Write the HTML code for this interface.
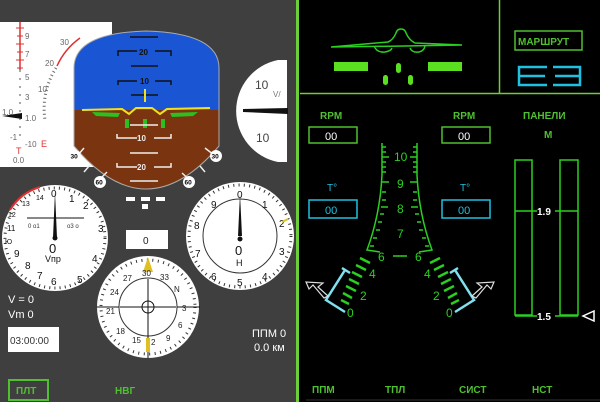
<!DOCTYPE html>
<html><head><meta charset="utf-8"><style>
html,body{margin:0;padding:0;width:600px;height:402px;overflow:hidden;background:#000}
svg{display:block;font-family:"Liberation Sans",sans-serif}
</style></head><body>
<svg width="600" height="402" viewBox="0 0 600 402" xmlns="http://www.w3.org/2000/svg">
<rect x="0" y="0" width="298" height="402" fill="#3f3f3f"/>
<rect x="296" y="0" width="3" height="402" fill="#6ccf3a"/>
<rect x="0" y="22" width="112" height="145" fill="#fff"/>
<line x1="20" y1="22" x2="20" y2="70" stroke="#e03030" stroke-width="1.5"/>
<line x1="20" y1="70" x2="20" y2="140" stroke="#555" stroke-width="1" stroke-dasharray="2,6"/>
<g stroke="#e03030" stroke-width="1"><line x1="16" y1="28" x2="24" y2="28"/><line x1="17" y1="36" x2="23" y2="36"/><line x1="16" y1="44" x2="24" y2="44"/><line x1="17" y1="52" x2="23" y2="52"/><line x1="16" y1="60" x2="24" y2="60"/><line x1="17" y1="68" x2="23" y2="68"/></g>
<g font-size="8" fill="#666"><text x="25" y="39">9</text><text x="25" y="57">7</text><text x="25" y="80">5</text><text x="25" y="100">3</text><text x="25" y="121">1.0</text><text x="2" y="115">1.0</text><text x="10" y="140">-1</text><text x="25" y="147">-10</text><text x="13" y="163">0.0</text><text x="60" y="45">30</text><text x="45" y="66">20</text><text x="38" y="92">10</text></g>
<text x="16" y="154" font-size="9" fill="#e03030">T</text><text x="41" y="147" font-size="9" fill="#e03030">E</text>
<path d="M2 116 L22 113 L22 119 Z" fill="#111"/>
<path d="M57 66 A70 70 0 0 1 80 38" stroke="#e03030" stroke-width="1.5" fill="none"/>
<path d="M56 68 A75 75 0 0 0 45 120" stroke="#666" stroke-width="3" stroke-dasharray="1,3" fill="none"/>
<defs><clipPath id="adi"><path d="M74 68 Q74 33 146 31 Q219 33 219 68 L219 146 Q146 232 74 146 Z"/></clipPath></defs>
<g clip-path="url(#adi)">
<rect x="70" y="20" width="155" height="90" fill="#1a56d4"/>
<rect x="70" y="110" width="155" height="90" fill="#7a3510"/>
</g>
<path d="M74 68 Q74 33 146 31 Q219 33 219 68 L219 146 Q146 232 74 146 Z" fill="none" stroke="#aaa" stroke-width="1"/>
<g stroke="#111" stroke-width="1.5" fill="none"><line x1="130" y1="37" x2="158" y2="37"/><path d="M118 56 V51 H137 M155 51 H171 V56"/><line x1="131" y1="66" x2="158" y2="66"/><path d="M118 85 V81 H137 M155 81 H171 V85"/><line x1="131" y1="95" x2="158" y2="95"/></g>
<g font-size="8" font-weight="bold" fill="#111"><text x="139" y="55">20</text><text x="140" y="84">10</text></g>
<line x1="145" y1="89" x2="145" y2="102" stroke="#f0e020" stroke-width="2"/>
<path d="M82 110 L122 109 L129 114 L136 108 L152 108 L160 114 L167 109 L210 108" stroke="#f0e020" stroke-width="2" fill="none"/>
<path d="M92 112 L120 113 L118 117 L96 116Z M170 113 L198 112 L193 116 L172 117Z" fill="#2ac020"/>
<g fill="#2ac020"><rect x="125" y="119" width="4" height="9"/><rect x="143" y="119" width="4" height="9"/><rect x="161" y="119" width="4" height="9"/></g>
<g stroke="#eee" stroke-width="1.5" fill="none"><line x1="130" y1="125" x2="158" y2="125"/><path d="M117 134 V138 H137 M154 138 H171 V134"/><line x1="130" y1="153" x2="158" y2="153"/><path d="M117 163 V167 H137 M154 167 H171 V163"/><line x1="130" y1="181" x2="158" y2="181"/>
<line x1="78" y1="155" x2="84" y2="148"/><line x1="84" y1="172" x2="90" y2="165"/><line x1="96" y1="183" x2="107" y2="172"/><line x1="214" y1="155" x2="205" y2="148"/><line x1="205" y1="172" x2="200" y2="166"/><line x1="193" y1="183" x2="182" y2="173"/></g>
<g font-size="8" font-weight="bold" fill="#eee"><text x="137" y="141">10</text><text x="137" y="170">20</text></g>
<g font-size="6.5" font-weight="bold"><circle cx="75" cy="156" r="6" fill="#fff"/><text x="70.5" y="158.5">30</text><circle cx="216" cy="156" r="6" fill="#fff"/><text x="211.5" y="158.5">30</text><circle cx="100" cy="182" r="6" fill="#fff"/><text x="95.5" y="184.5">60</text><circle cx="189" cy="182" r="6" fill="#fff"/><text x="184.5" y="184.5">60</text></g>
<g fill="#fff"><rect x="126" y="197" width="9" height="4"/><rect x="141" y="197" width="9" height="4"/><rect x="156" y="197" width="9" height="4"/><rect x="142" y="204" width="6" height="5"/></g>
<path d="M287 60 L287 162 L278 162 A52 52 0 0 1 278 60 Z" fill="#fff"/>
<path d="M243 109 L288 108 L288 114 L243 112Z" fill="#111"/>
<g font-size="12" fill="#444"><text x="255" y="89">10</text><text x="256" y="142">10</text></g><text x="273" y="97" font-size="8" fill="#777">V/</text>
<circle cx="55" cy="238" r="53" fill="#fff"/>
<path d="M10 210 A53 53 0 0 1 40 187" stroke="#e03030" stroke-width="2" fill="none"/>
<circle cx="55" cy="238" r="50" fill="none" stroke="#333" stroke-width="3" stroke-dasharray="1,4.2"/>
<g font-size="10" fill="#111"><text x="51" y="197">0</text><text x="69" y="202">1</text><text x="83" y="209">2</text><text x="98" y="232">3</text><text x="92" y="262">4</text><text x="77" y="283">5</text><text x="51" y="285">6</text><text x="37" y="279">7</text><text x="25" y="269">8</text><text x="14" y="257">9</text><text x="7" y="231" font-size="8">11</text><text x="8" y="217" font-size="7">12</text><text x="22" y="206" font-size="7">13</text><text x="36" y="200" font-size="7">14</text><text x="5" y="244" font-size="7">Ю</text></g>
<line x1="27" y1="218" x2="84" y2="218" stroke="#111"/>
<g font-size="6" fill="#333"><text x="28" y="228">0 o1</text><text x="67" y="228">o3 o</text></g>
<text x="49" y="253" font-size="13" fill="#111">0</text><text x="45" y="262" font-size="9" fill="#111">Vпр</text>
<path d="M53 238 L55 192 L57 238Z" fill="#111"/><circle cx="55" cy="238" r="2.5" fill="#111"/>
<circle cx="240" cy="236" r="54" fill="#fff"/>
<circle cx="240" cy="236" r="51" fill="none" stroke="#333" stroke-width="3" stroke-dasharray="1,4.3"/>
<circle cx="240" cy="236" r="37" fill="none" stroke="#333" stroke-width="1"/>
<g font-size="10" fill="#111"><text x="237" y="198">0</text><text x="262" y="208">1</text><text x="279" y="227">2</text><text x="279" y="255">3</text><text x="262" y="280">4</text><text x="237" y="286">5</text><text x="211" y="280">6</text><text x="195" y="257">7</text><text x="194" y="229">8</text><text x="211" y="208">9</text></g>
<path d="M282 222 L288 219" stroke="#e0c020" stroke-width="2"/>
<path d="M238 236 L240 194 L242 236Z" fill="#111"/><circle cx="240" cy="239" r="2.5" fill="#111"/>
<text x="235" y="255" font-size="13" fill="#111">0</text><text x="236" y="266" font-size="9" fill="#111">H</text>
<rect x="126" y="230" width="42" height="19" fill="#fff"/><text x="143" y="244" font-size="10" fill="#222">0</text>
<circle cx="148" cy="307" r="51" fill="#fff"/>
<circle cx="148" cy="307" r="47" fill="none" stroke="#333" stroke-width="3" stroke-dasharray="1,4.5"/>
<circle cx="148" cy="307" r="29" fill="none" stroke="#333"/>
<g stroke="#111"><line x1="148" y1="279" x2="148" y2="335"/><line x1="120" y1="307" x2="176" y2="307"/><line x1="97" y1="307" x2="119" y2="307"/><line x1="177" y1="307" x2="200" y2="307"/><line x1="148" y1="335" x2="148" y2="358"/></g>
<circle cx="148" cy="307" r="6" fill="none" stroke="#111"/>
<path d="M148 257 L153 272 L143 272Z" fill="#e0c020"/><rect x="146" y="338" width="4" height="14" fill="#e0c020"/>
<g font-size="8" fill="#222"><text x="142" y="276">30</text><text x="160" y="280">33</text><text x="174" y="292">N</text><text x="182" y="311">3</text><text x="178" y="328">6</text><text x="166" y="341">9</text><text x="151" y="345">2</text><text x="132" y="343">15</text><text x="116" y="334">18</text><text x="106" y="314">21</text><text x="110" y="295">24</text><text x="123" y="281">27</text></g>
<g font-size="11" fill="#fff"><text x="8" y="303">V = 0</text><text x="8" y="318">Vm 0</text><text x="252" y="337">ППМ 0</text><text x="254" y="351">0.0 км</text></g>
<rect x="8" y="327" width="51" height="25" fill="#fff"/><text x="10" y="344" font-size="10" fill="#333">03:00:00</text>
<rect x="9" y="380" width="39" height="20" fill="none" stroke="#4fc030" stroke-width="2"/>
<g font-size="10" font-weight="bold" fill="#4fc030"><text x="16" y="394">ПЛТ</text><text x="115" y="394">НВГ</text></g>
<line x1="300" y1="93.5" x2="600" y2="93.5" stroke="#6ccf3a" stroke-width="1.5"/>
<line x1="499.5" y1="0" x2="499.5" y2="93" stroke="#6ccf3a" stroke-width="1.5"/>
<path d="M331 47 L388 42 Q393 40 396 33 Q397 29 401 29 Q405 29 406 33 Q409 40 415 43 L462 45 L405 46 L331 47" fill="none" stroke="#2ad020" stroke-width="1.5"/>
<path d="M374 46 Q377 53 385 52 Q391 51 392 48 M410 48 Q412 53 419 52 Q424 51 425 46" fill="none" stroke="#2ad020" stroke-width="1.5"/>
<g fill="#5ae020"><rect x="334" y="62" width="34" height="9"/><rect x="428" y="62" width="34" height="9"/><rect x="396" y="63" width="5" height="10" rx="2.5"/><rect x="383" y="75" width="5" height="10" rx="2.5"/><rect x="408" y="75" width="5" height="10" rx="2.5"/></g>
<rect x="515" y="31" width="67" height="19" fill="none" stroke="#4fc030" stroke-width="1.5"/>
<text x="518" y="45" font-size="10" font-weight="bold" fill="#4fc030">МАРШРУТ</text>
<g stroke="#20c0e0" stroke-width="2.5" fill="none"><path d="M547 67 H519 V85 H547 M519 76 H545"/><path d="M553 67 H580 V85 H553 M555 76 H580"/></g>
<g font-size="10" font-weight="bold" fill="#4fc030"><text x="320" y="119">RPM</text><text x="453" y="119">RPM</text><text x="523" y="119">ПАНЕЛИ</text><text x="544" y="138">М</text>
<text x="312" y="393">ППМ</text><text x="385" y="393">ТПЛ</text><text x="459" y="393">СИСТ</text><text x="532" y="393">НСТ</text></g>
<g font-size="10" fill="#20c0e0"><text x="327" y="191">Т°</text><text x="460" y="191">Т°</text></g>
<rect x="309" y="127" width="48" height="16" fill="none" stroke="#4fc030" stroke-width="1.5"/><rect x="442" y="127" width="48" height="16" fill="none" stroke="#4fc030" stroke-width="1.5"/>
<rect x="309" y="200" width="48" height="18" fill="none" stroke="#20c0e0" stroke-width="1.5"/><rect x="442" y="200" width="48" height="18" fill="none" stroke="#20c0e0" stroke-width="1.5"/>
<g font-size="11" fill="#fff"><text x="325" y="140">00</text><text x="458" y="140">00</text></g>
<g font-size="11" fill="#20c0e0"><text x="325" y="214">00</text><text x="458" y="214">00</text></g>
<g stroke="#2ad020" stroke-width="1.5" fill="none">
<path d="M382 143 L382 175 Q380 215 367 250 L380 252"/><path d="M417 143 L417 175 Q419 215 432 250 L419 252"/>
<path d="M382 147 h4 M382 152 h4 M382 157 h7 M382 162 h4 M382 167 h4 M382 172 h4 M382 182 h7 M382 192 h4 M382 200 h4 M381 207 h7 M380 214 h4 M378 222 h4 M376 230 h4 M373 238 h4 M370 246 h4"/>
<path d="M417 147 h-4 M417 152 h-4 M417 157 h-7 M417 162 h-4 M417 167 h-4 M417 172 h-4 M417 182 h-7 M417 192 h-4 M417 200 h-4 M418 207 h-7 M419 214 h-4 M421 222 h-4 M423 230 h-4 M426 238 h-4 M429 246 h-4"/>
<line x1="393" y1="256" x2="407" y2="256"/>
</g>
<g stroke="#2ad020" stroke-width="2.5"><line x1="360" y1="258" x2="370" y2="263"/><line x1="356" y1="265" x2="366" y2="270"/><line x1="352" y1="272" x2="362" y2="277"/><line x1="349" y1="279" x2="359" y2="284"/><line x1="346" y1="286" x2="356" y2="291"/><line x1="343" y1="293" x2="352" y2="298"/><line x1="341" y1="300" x2="349" y2="304"/>
<line x1="440" y1="258" x2="430" y2="263"/><line x1="444" y1="265" x2="434" y2="270"/><line x1="448" y1="272" x2="438" y2="277"/><line x1="451" y1="279" x2="441" y2="284"/><line x1="454" y1="286" x2="444" y2="291"/><line x1="457" y1="293" x2="448" y2="298"/><line x1="459" y1="300" x2="451" y2="304"/></g>
<g font-size="12" fill="#2ad020"><text x="394" y="161">10</text><text x="397" y="188">9</text><text x="397" y="213">8</text><text x="397" y="238">7</text><text x="378" y="261">6</text><text x="415" y="261">6</text><text x="369" y="278">4</text><text x="360" y="300">2</text><text x="347" y="317">0</text><text x="424" y="278">4</text><text x="433" y="300">2</text><text x="446" y="317">0</text></g>
<g stroke="#80e0f0" stroke-width="2.5" fill="none"><path d="M345 270 L326 300 L345 312"/><line x1="342" y1="268" x2="350" y2="273"/><path d="M455 270 L474 300 L455 312"/><line x1="450" y1="273" x2="458" y2="268"/></g>
<g stroke="#ddd" stroke-width="1.2" fill="#000"><path d="M324 298 L313 285 L309 289 L306 282 L323 283 L318 287 L328 296Z"/><path d="M476 298 L487 285 L491 289 L494 282 L477 283 L482 287 L472 296Z"/></g>
<g stroke="#2ad020" stroke-width="1.5" fill="none"><rect x="515" y="160" width="17" height="155"/><rect x="560" y="160" width="18" height="155"/><line x1="515" y1="211" x2="578" y2="211"/><line x1="515" y1="316" x2="578" y2="316"/></g>
<rect x="537" y="205" width="18" height="12" fill="#000"/><rect x="537" y="310" width="18" height="12" fill="#000"/>
<g font-size="10" font-weight="bold" fill="#fff"><text x="537" y="215">1.9</text><text x="537" y="320">1.5</text></g>
<path d="M594 311 L583 316 L594 321Z" fill="none" stroke="#fff" stroke-width="1.5"/>
<line x1="306" y1="400" x2="600" y2="400" stroke="#333"/>
</svg>
</body></html>
